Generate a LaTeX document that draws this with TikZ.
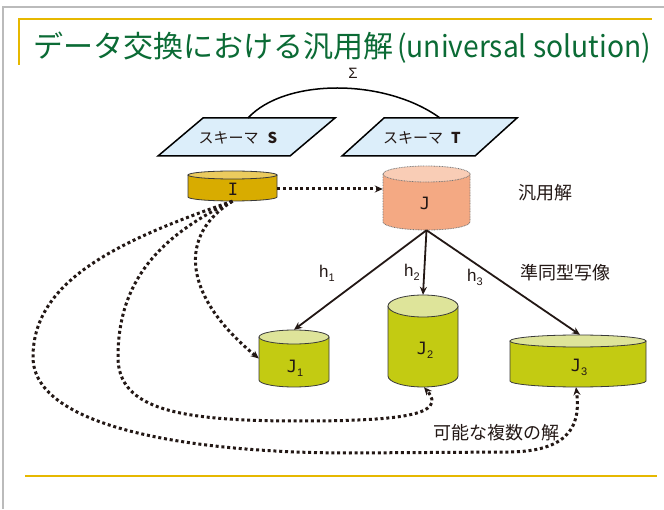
\documentclass[tikz,border=0pt]{standalone}
\usepackage{fontspec}
\usepackage{graphicx}
\setmainfont{Liberation Sans}
\newfontfamily\jp{Noto Sans CJK JP}
\newfontfamily\mono{DejaVu Sans Mono}
\usetikzlibrary{arrows.meta}
\definecolor{titlegreen}{HTML}{0B6B35}
\definecolor{gold}{HTML}{E6B800}
\definecolor{framegray}{HTML}{BBBBBB}
\definecolor{schemafill}{HTML}{DCEEFA}
\definecolor{ibody}{HTML}{D8AC00}
\definecolor{itop}{HTML}{EBCB5E}
\definecolor{jbody}{HTML}{F4A983}
\definecolor{jtop}{HTML}{F9CDB6}
\definecolor{gbody}{HTML}{C3CB12}
\definecolor{gtop}{HTML}{DEE49A}
\definecolor{ink}{HTML}{231815}
\definecolor{cylline}{HTML}{3A3A3A}
% cylinder: name, cx, topY, botY, half width, ry, body colour, top colour, outline style
\newcommand\mycyl[9]{%
  \fill[#7] ({#2-#5},#3) -- ({#2-#5},#4) arc[start angle=180,end angle=360,x radius=#5pt,y radius=#6pt] -- ({#2+#5},#3) -- cycle;
  \draw[#9] ({#2-#5},#3) -- ({#2-#5},#4) arc[start angle=180,end angle=360,x radius=#5pt,y radius=#6pt] -- ({#2+#5},#3);
  \filldraw[#9,fill=#8] (#2,#3) ellipse[x radius=#5pt,y radius=#6pt];
  \node[inner sep=0pt,minimum width={2*#5pt},minimum height={(#3-#4+2*#6)*1pt}] (#1) at (#2,{(#3+#4)/2}) {};
}
\newcommand\jlab[2]{{\mono\fontsize{17}{20}\selectfont #1}\raisebox{-4pt}{\fontsize{11}{12}\selectfont #2}}
\newcommand\hlab[1]{{\fontsize{17}{18}\selectfont h}\raisebox{-4pt}{\fontsize{11}{12}\selectfont #1}}
\tikzset{
  cylsolid/.style={draw=cylline,line width=0.8pt},
  cyldot/.style={draw=cylline!70,line width=0.8pt,dash pattern=on 0.8pt off 0.8pt},
  schemabox/.style={draw=black,line width=1.5pt,fill=schemafill,line join=miter},
  hom/.style={draw=ink,line width=1.8pt,-{Stealth[length=8pt,width=7pt]}},
  dotarrow/.style={draw=ink,line width=3pt,dash pattern=on 3pt off 2.8pt,-{Stealth[length=8pt,width=7pt]}},
  lab/.style={inner sep=0pt,text=ink},
}
\begin{document}
\begin{tikzpicture}[x=1pt,y=1pt]
\useasboundingbox[fill=white] (0,0) rectangle (664,509);
% frame
\draw[framegray,line width=1.2pt] (3,0) -- (3,502) -- (664,502);
\draw[gold,line width=1.3pt] (19,444) -- (19,490) -- (652,490);
\draw[gold,line width=2pt] (25,33) -- (657,33);
% title
\node[anchor=base west,inner sep=0pt,text=titlegreen] (title) at (33,451)
  {\jp\fontsize{30}{36}\selectfont データ交換における汎用解\hspace{4pt}\scalebox{0.94}[1]{(universal solution)}};
% schemas
\draw[schemabox] (158,353) -- (290,353) -- (335,391) -- (203,391) -- cycle;
\draw[schemabox] (342,353) -- (475,353) -- (517,391) -- (384,391) -- cycle;
\node[lab] (S) at (238,371) {\jp\fontsize{15}{18}\selectfont スキーマ\hspace{9pt}\textbf{S}};
\node[lab] (T) at (422,371) {\jp\fontsize{15}{18}\selectfont スキーマ\hspace{8pt}\textbf{T}};
\coordinate (sA) at (248,391);
\coordinate (tA) at (440,391);
\draw[black,line width=1.5pt] (sA) .. controls (285,431) and (385,431) .. (tA);
\node[lab] (sigma) at (353,436) {\fontsize{15}{16}\selectfont Σ};
% cylinders
\mycyl{I}{232.5}{334}{312}{44.5}{4}{ibody}{itop}{cylsolid}
\mycyl{J}{426.5}{335}{287}{43.5}{8}{jbody}{jtop}{cyldot}
\mycyl{J1}{294}{172}{129}{35}{7}{gbody}{gtop}{cylsolid}
\mycyl{J2}{423}{203}{133}{35}{11}{gbody}{gtop}{cylsolid}
\mycyl{J3}{578}{168}{128}{68}{6}{gbody}{gtop}{cylsolid}
\node[lab] (Ilab) at (233,320) {\mono\fontsize{17}{20}\selectfont I};
\node[lab] (Jlab) at (425,306) {\mono\fontsize{17}{20}\selectfont J};
\node[lab] (J1lab) at (295,141) {\jlab{J}{1}};
\node[lab] (J2lab) at (425,159) {\jlab{J}{2}};
\node[lab] (J3lab) at (579,142) {\jlab{J}{3}};
% labels
\node[lab] (univ) at (545,316) {\jp\fontsize{18}{20}\selectfont 汎用解};
\node[lab] (homlab) at (565,236) {\jp\fontsize{18}{20}\selectfont 準同型写像};
\node[lab] (multi) at (496,76) {\jp\fontsize{18}{20}\selectfont 可能な複数の解};
\node[lab] (h1) at (327,236) {\hlab{1}};
\node[lab] (h2) at (412,237) {\hlab{2}};
\node[lab] (h3) at (475,232) {\hlab{3}};
% homomorphisms
\draw[hom] (J.south) -- (J1.north);
\draw[hom] (J.south) -- (J2.north);
\draw[hom] (J.south) -- ([xshift=2pt]J3.north);
% chase
\draw[dotarrow] (I.east |- 0,320) -- (J.west |- 0,320);
% possible solutions
\draw[dotarrow] (I.south) .. controls (178,274) and (182,214) .. (J1.west);
\draw[dotarrow] (I.south) .. controls (150,269) and (118,219) .. (118,152)
  .. controls (118,99) and (180,88) .. (300,88)
  .. controls (400,88) and (448,94) .. ([xshift=1pt]J2.south);
\draw[dotarrow] (I.south) .. controls (120,269) and (33,229) .. (33,152)
  .. controls (33,79) and (200,56) .. (350,56)
  -- (510,57) .. controls (575,58) and (580,89) .. ([xshift=-2pt]J3.south);
\end{tikzpicture}
\end{document}
